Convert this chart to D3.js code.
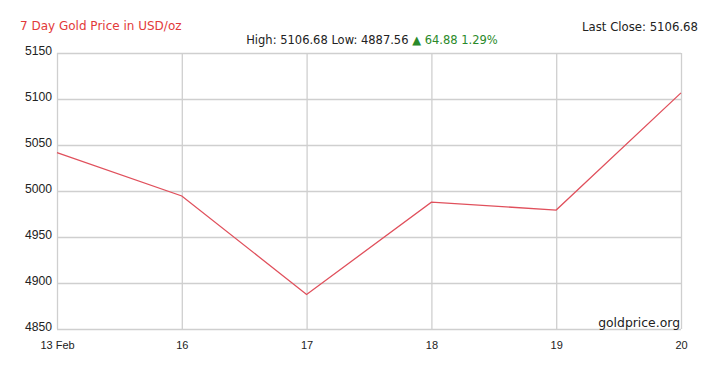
<!DOCTYPE html>
<html>
<head>
<meta charset="utf-8">
<script src="https://cdn.jsdelivr.net/npm/d3@7"></script>
<style>
    body { margin: 0; background: #fff; }
    svg { font-family: "DejaVu Sans", sans-serif; }
</style>
</head>
<body>
<div class="graph-container"></div>
<script>
// chart data
const dayLabels = ['13 Feb', '16', '17', '18', '19', '20'];
const prices = [5041.80, 4994.6, 4887.56, 4987.8, 4979.3, 5106.68];
const yTicks = [4850, 4900, 4950, 5000, 5050, 5100, 5150];

// graph constants
const w = 720;
const h = 365;
const plotLeft = 57;
const plotRight = 681;
const plotTop = 53;
const plotBottom = 329;

const svgChart = d3.select('.graph-container')
    .append('svg')
    .attr('width', w)
    .attr('height', h);

// scales
const xScale = d3.scalePoint()
    .domain(dayLabels)
    .range([plotLeft, plotRight]);
const yScale = d3.scaleLinear()
    .domain([4850, 5150])
    .range([plotBottom, plotTop]);

// grid
const xAxis = d3.axisBottom(xScale).tickSize(-(plotBottom - plotTop)).tickPadding(9);
const yAxis = d3.axisLeft(yScale)
    .tickValues(yTicks)
    .tickFormat(d3.format('d'))
    .tickSize(-(plotRight - plotLeft))
    .tickPadding(5);

const gx = svgChart.append('g')
    .attr('transform', `translate(0, ${plotBottom})`)
    .call(xAxis);
gx.select('.domain').remove();
gx.selectAll('line').attr('stroke', '#cfcfcf').attr('stroke-width', 1.3);
gx.selectAll('text').attr('font-size', 11).attr('fill', '#222').attr('dy', '1.0em');

const gy = svgChart.append('g')
    .attr('transform', `translate(${plotLeft}, 0)`)
    .call(yAxis);
gy.select('.domain').remove();
gy.selectAll('line').attr('stroke', '#cfcfcf').attr('stroke-width', 1.3);
gy.selectAll('text').attr('font-size', 12.2).attr('fill', '#222').attr('dy', '0.1em');

// price line
const line = d3.line()
    .x((d, i) => xScale(dayLabels[i]))
    .y(d => yScale(d));
svgChart.append('path')
    .datum(prices)
    .attr('d', line)
    .attr('fill', 'none')
    .attr('stroke', '#e0505c')
    .attr('stroke-width', 1.3);

// header texts
svgChart.append('text')
    .text('7 Day Gold Price in USD/oz')
    .attr('x', 20).attr('y', 30)
    .attr('font-size', 12)
    .attr('fill', '#e23a3a');
svgChart.append('text')
    .text('Last Close: 5106.68')
    .attr('x', 698).attr('y', 31)
    .attr('text-anchor', 'end')
    .attr('font-size', 11.7)
    .attr('fill', '#222');

const hi = d3.max(prices);
const lo = d3.min(prices);
const change = prices[prices.length - 1] - prices[0];
const pct = change / prices[0] * 100;
const stats = svgChart.append('text')
    .attr('x', 372).attr('y', 44)
    .attr('text-anchor', 'middle')
    .attr('font-size', 11.5)
    .attr('fill', '#222');
stats.append('tspan').text(`High: ${hi.toFixed(2)} Low: ${lo.toFixed(2)} `);
stats.append('tspan').attr('fill', '#2a8a2a').text(`\u25B2 ${change.toFixed(2)} ${pct.toFixed(2)}%`);

svgChart.append('text')
    .text('goldprice.org')
    .attr('x', 680).attr('y', 327)
    .attr('text-anchor', 'end')
    .attr('font-size', 12.4)
    .attr('fill', '#222');
</script>
</body>
</html>
